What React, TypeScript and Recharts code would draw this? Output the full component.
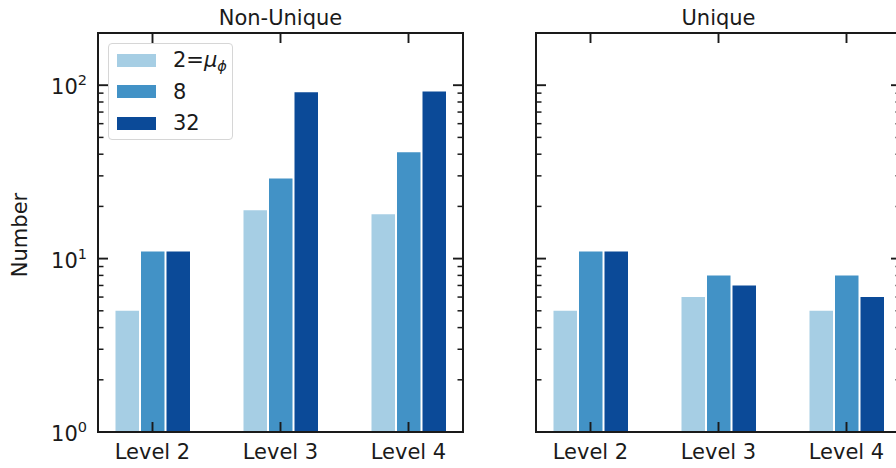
import React from 'react';
import { BarChart, Bar, XAxis, YAxis, Legend } from 'recharts';

// categories and series
const levels = ['Level 2', 'Level 3', 'Level 4'];
const seriesNames = ['2=μ_ϕ', '8', '32'];
const seriesKeys = ['mu2', 'mu8', 'mu32'];
const seriesColors = ['#a6cee4', '#4292c6', '#0b4a98'];

const nonUniqueMu2 = [5, 19, 18];
const nonUniqueMu8 = [11, 29, 41];
const nonUniqueMu32 = [11, 91, 92];

const uniqueMu2 = [5, 6, 5];
const uniqueMu8 = [11, 8, 8];
const uniqueMu32 = [11, 7, 6];

const yDomain = [1, 200];
const yTicks = [1, 2, 3, 4, 5, 6, 7, 8, 9, 10, 20, 30, 40, 50, 60, 70, 80, 90, 100];
const majorTicks = [1, 10, 100];

const FONT = '"DejaVu Sans", sans-serif';
const FS = 21;
const INK = '#1a1a1a';
const W = 470;
const H = 468;
const PLOT_LEFT = 98;
const PLOT_RIGHT = 463;
const PLOT_TOP = 33;
const PLOT_BOTTOM = 432;

const buildRows = (a: number[], b: number[], c: number[]) =>
  levels.map((level, i) => ({ level, mu2: a[i], mu8: b[i], mu32: c[i] }));

const nonUniqueData = buildRows(nonUniqueMu2, nonUniqueMu8, nonUniqueMu32);
const uniqueData = buildRows(uniqueMu2, uniqueMu8, uniqueMu32);

const YTick = ({ x, y, payload, side, showLabel }: any) => {
  const v = payload.value;
  const major = majorTicks.includes(v);
  const len = major ? 10 : 5.5;
  const dir = side === 'left' ? 1 : -1;
  return (
    <g>
      <line x1={x} x2={x + dir * len} y1={y} y2={y} stroke={INK} strokeWidth={major ? 1.9 : 1.5} />
      {showLabel && major && (
        <text x={x - 11} y={y + 9} textAnchor="end" fontFamily={FONT} fontSize={FS} fill={INK}>
          10
          <tspan dy={-9} fontSize={14.5}>
            {Math.round(Math.log10(v))}
          </tspan>
        </text>
      )}
    </g>
  );
};

const XTick = ({ x, y, payload, side }: any) => {
  const dir = side === 'bottom' ? -1 : 1;
  return (
    <g>
      <line x1={x} x2={x} y1={y} y2={y + dir * 10} stroke={INK} strokeWidth={1.9} />
      {side === 'bottom' && (
        <text x={x} y={y + 26.5} textAnchor="middle" fontFamily={FONT} fontSize={FS} fill={INK}>
          {payload.value}
        </text>
      )}
    </g>
  );
};

const renderName = (name: string) => {
  const [base, sub] = name.split('_');
  if (!sub) return name;
  return (
    <>
      {base.slice(0, -1)}
      <i>{base.slice(-1)}</i>
      <sub style={{ fontSize: 14.5, verticalAlign: '-4px', lineHeight: 0 }}>
        <i>{sub}</i>
      </sub>
    </>
  );
};

const LegendBox = ({ payload }: any) => {
  const items = [...(payload ?? [])].sort(
    (a: any, b: any) => seriesNames.indexOf(String(a.value)) - seriesNames.indexOf(String(b.value))
  );
  return (
    <div
      style={{
        width: 125,
        height: 97,
        boxSizing: 'border-box',
        border: '1px solid #d6d6d6',
        borderRadius: 4,
        background: 'rgba(255,255,255,0.85)',
        position: 'relative',
        fontFamily: FONT,
        fontSize: FS,
        color: INK,
      }}
    >
      {items.map((p: any, i: number) => (
        <div key={i} style={{ position: 'absolute', left: 0, top: 4 + i * 31.5, height: 24, width: 123 }}>
          <span style={{ position: 'absolute', left: 8, top: 5.5, width: 39, height: 13, background: p.color }} />
          <span style={{ position: 'absolute', left: 64, top: 0, lineHeight: '24px', whiteSpace: 'nowrap' }}>
            {renderName(String(p.value))}
          </span>
        </div>
      ))}
    </div>
  );
};

const frame = { stroke: INK, strokeWidth: 2, strokeLinecap: 'square' as const };

// the same four axes are used twice: invisible under the bars (for layout)
// and visible in an overlay chart so the ticks sit on top of the bars
const axes = (visible: boolean, title: string, first?: boolean) => {
  const common = { tickLine: false, tickSize: 0, tickMargin: 0, interval: 0 as const };
  return [
    <XAxis
      key="xb"
      xAxisId="bottom"
      dataKey="level"
      height={H - PLOT_BOTTOM}
      padding={{ left: -9.5, right: -9.5 }}
      axisLine={visible ? frame : false}
      {...common}
      tick={visible ? (p: any) => <XTick {...p} side="bottom" /> : false}
    />,
    <XAxis
      key="xt"
      xAxisId="top"
      orientation="top"
      dataKey="level"
      height={1}
      padding={{ left: -9.5, right: -9.5 }}
      axisLine={visible ? frame : false}
      {...common}
      tick={visible ? (p: any) => <XTick {...p} side="top" /> : false}
      label={
        visible
          ? () => (
              <text x={(PLOT_LEFT + PLOT_RIGHT) / 2} y={PLOT_TOP - 8} textAnchor="middle" fontFamily={FONT} fontSize={FS} fill={INK}>
                {title}
              </text>
            )
          : undefined
      }
    />,
    <YAxis
      key="yl"
      yAxisId="left"
      type="number"
      scale="log"
      domain={yDomain}
      allowDataOverflow
      ticks={yTicks}
      width={PLOT_LEFT}
      axisLine={visible ? frame : false}
      {...common}
      tick={visible ? (p: any) => <YTick {...p} side="left" showLabel={first} /> : false}
      label={
        visible && first
          ? () => (
              <text x={26.5} y={235} transform="rotate(-90 26.5 235)" textAnchor="middle" fontFamily={FONT} fontSize={FS} fill={INK}>
                Number
              </text>
            )
          : undefined
      }
    />,
    <YAxis
      key="yr"
      yAxisId="right"
      orientation="right"
      type="number"
      scale="log"
      domain={yDomain}
      allowDataOverflow
      ticks={yTicks}
      width={1}
      axisLine={visible ? frame : false}
      {...common}
      tick={visible ? (p: any) => <YTick {...p} side="right" /> : false}
    />,
  ];
};

const margin = { top: PLOT_TOP - 1, right: W - PLOT_RIGHT - 1, bottom: 0, left: 0 };

const Panel = ({ title, data, first }: { title: string; data: any[]; first?: boolean }) => (
  <div style={{ position: 'relative', width: W, height: H }}>
    <div style={{ position: 'absolute', left: 0, top: 0 }}>
      <BarChart width={W} height={H} data={data} margin={margin} barSize={23.5} barGap={2}>
        {axes(false, title, first)}
        {seriesKeys.map((k, i) => (
          <Bar
            key={k}
            xAxisId="bottom"
            yAxisId="left"
            dataKey={k}
            name={seriesNames[i]}
            fill={seriesColors[i]}
            isAnimationActive={false}
          />
        ))}
        {first && (
          <Legend
            layout="vertical"
            align="center"
            verticalAlign="middle"
            content={(p: any) => <LegendBox {...p} />}
            wrapperStyle={{ left: 108, top: 43, width: 125, height: 97 }}
          />
        )}
      </BarChart>
    </div>
    <div style={{ position: 'absolute', left: 0, top: 0, pointerEvents: 'none' }}>
      <BarChart width={W} height={H} data={data} margin={margin}>
        {axes(true, title, first)}
      </BarChart>
    </div>
  </div>
);

export default function App() {
  return (
    <div
      style={{
        position: 'fixed',
        left: 0,
        top: 0,
        width: 896,
        height: 468,
        overflow: 'hidden',
        background: '#fff',
      }}
    >
      <div style={{ position: 'absolute', left: 0, top: 0 }}>
        <Panel title="Non-Unique" data={nonUniqueData} first />
      </div>
      <div style={{ position: 'absolute', left: 438, top: 0 }}>
        <Panel title="Unique" data={uniqueData} />
      </div>
    </div>
  );
}
